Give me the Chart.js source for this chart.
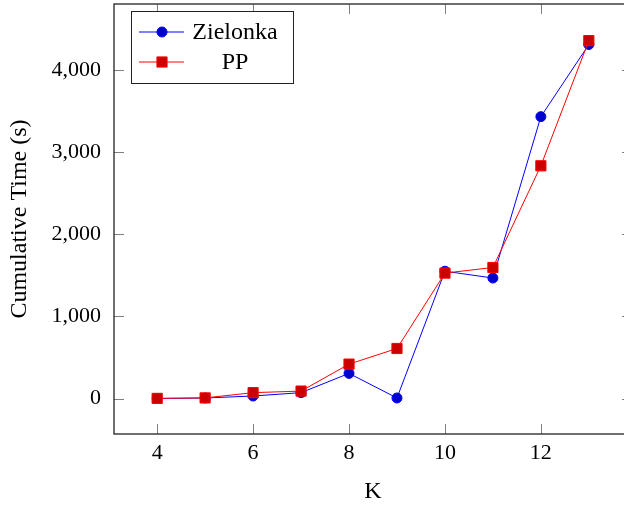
<!DOCTYPE html>
<html>
<head>
<meta charset="utf-8">
<script src="https://cdn.jsdelivr.net/npm/chart.js@4"></script>
<style>
    html, body { margin: 0; padding: 0; background: white; overflow: hidden; }
    #wrap { width: 640px; height: 506px; }
</style>
</head>
<body>
<div id="wrap"><canvas id="chart-canvas" width="640" height="506"></canvas></div>
<script>
// data
const k_values = [4, 5, 6, 7, 8, 9, 10, 11, 12, 13]
const zielonka_times = [2, 8, 32, 73, 307, 8, 1550, 1467, 3430, 4307]
const pp_times = [3, 9, 73, 92, 420, 610, 1527, 1595, 2832, 4355]
const x_ticks = [4, 6, 8, 10, 12]
const y_ticks = [0, 1000, 2000, 3000, 4000]

const serif = '"Liberation Serif", "DejaVu Serif", serif'
const tick_font = { family: serif, size: 22 }
const title_font = { family: serif, size: 24 }

const to_points = (ys) => k_values.map((k, i) => ({ x: k, y: ys[i] }))

// inward ticks on all four sides + the box
const frame_plugin = {
    id: 'frame',
    afterDatasetsDraw: (chart) => {
        const { ctx, chartArea: a, scales } = chart
        const len = 10
        ctx.save()
        ctx.strokeStyle = '#808080'
        ctx.lineWidth = 1
        ctx.beginPath()
        x_ticks.forEach(t => {
            const px = Math.round(scales.x.getPixelForValue(t)) + 0.5
            ctx.moveTo(px, a.bottom); ctx.lineTo(px, a.bottom - len)
            ctx.moveTo(px, a.top); ctx.lineTo(px, a.top + len)
        })
        y_ticks.forEach(t => {
            const py = Math.round(scales.y.getPixelForValue(t)) + 0.5
            ctx.moveTo(a.left, py); ctx.lineTo(a.left + len, py)
            ctx.moveTo(a.right, py); ctx.lineTo(a.right - len, py)
        })
        ctx.stroke()
        ctx.strokeStyle = '#222'
        ctx.lineWidth = 1.3
        ctx.strokeRect(a.left, a.top, a.right - a.left, a.bottom - a.top)
        ctx.restore()
    }
}

// legend box inside the plot, top left
const legend_plugin = {
    id: 'inner_legend',
    afterDraw: (chart) => {
        const { ctx, chartArea: a } = chart
        const box_x = a.left + 17, box_y = a.top + 7, box_w = 162, box_h = 72
        ctx.save()
        ctx.fillStyle = 'white'
        ctx.fillRect(box_x, box_y, box_w, box_h)
        ctx.strokeStyle = '#222'
        ctx.lineWidth = 1
        ctx.strokeRect(box_x + 0.5, box_y + 0.5, box_w, box_h)
        chart.data.datasets.forEach((ds, i) => {
            const cy = box_y + 21 + i * 30
            ctx.strokeStyle = ds.borderColor
            ctx.lineWidth = ds.borderWidth
            ctx.beginPath()
            ctx.moveTo(box_x + 8, cy); ctx.lineTo(box_x + 53, cy)
            ctx.stroke()
            ctx.fillStyle = ds.pointBackgroundColor
            ctx.strokeStyle = ds.pointBorderColor
            ctx.lineWidth = ds.pointBorderWidth
            Chart.helpers.drawPoint(ctx, {
                pointStyle: ds.pointStyle, radius: ds.pointRadius, borderWidth: ds.pointBorderWidth
            }, box_x + 31, cy)
            ctx.fillStyle = 'black'
            ctx.font = `24px ${serif}`
            ctx.textAlign = 'center'
            ctx.textBaseline = 'middle'
            ctx.fillText(ds.label, box_x + 104, cy + 1)
        })
        ctx.restore()
    }
}

const chart = new Chart(document.getElementById('chart-canvas'), {
    type: 'line',
    data: {
        datasets: [{
            label: 'Zielonka',
            data: to_points(zielonka_times),
            borderColor: '#0000ff',
            backgroundColor: '#0000cc',
            pointBackgroundColor: '#0000cc',
            pointBorderColor: '#0000ff',
            borderWidth: 1,
            pointBorderWidth: 1,
            pointStyle: 'circle',
            pointRadius: 5,
            order: 1,
        }, {
            label: 'PP',
            data: to_points(pp_times),
            borderColor: '#ff0000',
            backgroundColor: '#cc0000',
            pointBackgroundColor: '#cc0000',
            pointBorderColor: '#ff0000',
            borderWidth: 1,
            pointBorderWidth: 1,
            pointStyle: 'rect',
            pointRadius: 7.2,
            order: 0,
        }]
    },
    options: {
        responsive: false,
        animation: false,
        events: [],
        layout: { autoPadding: false, padding: { left: 0, top: 4, right: 8, bottom: 0 } },
        plugins: { legend: { display: false }, tooltip: { enabled: false } },
        scales: {
            x: {
                type: 'linear',
                min: 3.1,
                max: 13.9,
                afterBuildTicks: (scale) => { scale.ticks = x_ticks.map(v => ({ value: v })) },
                afterFit: (scale) => {
                    scale.height = 72
                    scale.paddingLeft = 0
                    scale.paddingRight = 0
                },
                grid: { display: false, drawTicks: false },
                border: { display: false },
                ticks: { font: tick_font, color: 'black', padding: 6, maxRotation: 0 },
                title: { display: true, text: 'K', font: title_font, color: 'black', padding: { top: 0, bottom: 0 } },
            },
            y: {
                min: -430,
                max: 4800,
                afterBuildTicks: (scale) => { scale.ticks = y_ticks.map(v => ({ value: v })) },
                afterFit: (scale) => {
                    scale.width = 114
                    scale.paddingTop = 0
                    scale.paddingBottom = 0
                },
                grid: { display: false, drawTicks: false },
                border: { display: false },
                ticks: {
                    font: tick_font, color: 'black', padding: 13,
                    callback: (v) => v.toLocaleString('en-US'),
                },
                title: { display: true, text: 'Cumulative Time (s)', font: title_font, color: 'black', padding: { top: 5, bottom: 0 } },
            }
        }
    },
    plugins: [frame_plugin, legend_plugin]
})
</script>
</body>
</html>
